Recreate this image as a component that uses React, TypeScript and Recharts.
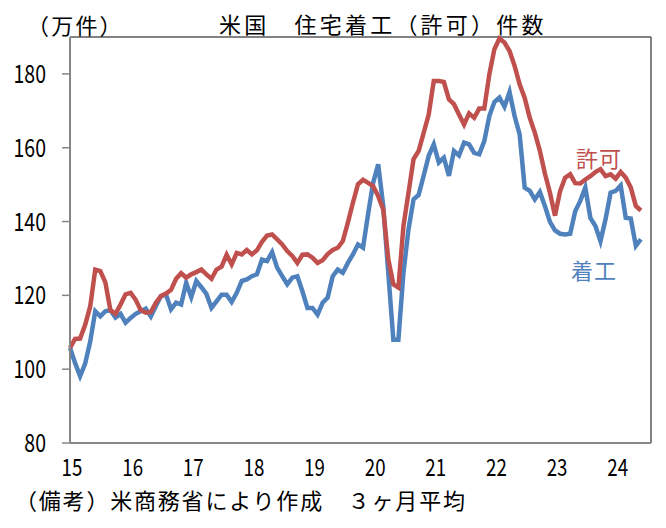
import React from 'react';
import { LineChart, Line, XAxis, YAxis, ReferenceLine } from 'recharts';

// Monthly, Jan 2015 (index 0) to Jun 2024 (index 113), 3-month average, 10k units
const permits: number[] = [
  105.8, 108.2, 108.3, 112, 117, 127, 126.6, 123.5, 116, 115, 117.5, 120.3,
  120.7, 118.8, 116, 115.3, 115.5, 118, 119.8, 120.5, 121.5, 124.5, 126, 124.8,
  125.7, 126.3, 127, 125.7, 124.5, 127, 127.8, 131, 128.4, 131.5, 131.1, 132.3,
  131.1, 132.2, 134.5, 136.2, 136.5, 135.2, 133.8, 132, 130.7, 128.8, 131, 131.1,
  130.2, 128.8, 129.5, 131.2, 132.3, 132.9, 134.7, 139.7, 145.1, 150.1, 151.3, 150.5,
  149.6, 146.9, 143.3, 129.8, 123, 122.1, 138.8, 147.8, 156.9, 159.1, 164, 169,
  178.1, 178.1, 177.8, 173.1, 171.8, 169, 166.3, 169.3, 168.1, 170.6, 170.6, 179.9,
  186.7, 189.6, 188.5, 186.2, 182.2, 177.2, 173.5, 168.1, 164.1, 159.2, 153, 147.8,
  141.6, 148.2, 151.9, 152.8, 150.4, 150.3, 151.4, 152.3, 153.4, 154.2, 152.3, 152.8,
  151.6, 153.4, 151.9, 149.2, 144.2, 143,
];

const starts: number[] = [
  105.8, 101.7, 98.1, 101.5, 107.5, 115.7, 114.3, 115.7, 116, 114, 115, 112.6,
  113.9, 115, 115.7, 116.4, 114.3, 117.1, 119.8, 120.2, 116.2, 118, 117.5, 123.4,
  119.5, 123.9, 122.2, 120.4, 116.6, 118.4, 120.2, 120.2, 118.2, 120.7, 123.9, 124.3,
  125.2, 125.7, 129.7, 129.3, 131.7, 127.5, 125.2, 123, 124.8, 125.2, 121.1, 116.6,
  116.6, 114.8, 118, 119.4, 125.2, 127, 126.1, 128.8, 131.1, 133.8, 132.9, 142,
  150.5, 155.5, 144.2, 126.1, 108, 108, 126.1, 137.9, 146, 147.2, 152.4, 157.8,
  160.9, 156, 157.3, 152.4, 159.1, 157.9, 161.4, 160.9, 158.6, 158.2, 161.8, 168.6,
  172.4, 173.6, 171.1, 175.1, 168.6, 163.6, 149.2, 148.3, 146, 148, 144.2, 139.9,
  137.6, 136.7, 136.5, 136.7, 142.8, 145.6, 149.2, 141, 138.8, 134.7, 140.6, 147.8,
  148.3, 149.8, 141, 140.8, 133.4, 135.2,
];

const yearLabels: string[] = ['15', '16', '17', '18', '19', '20', '21', '22', '23', '24'];
const yTicks: number[] = [80, 100, 120, 140, 160, 180];

const title = '米国　住宅着工（許可）件数';
const unitLabel = '（万件）';
const note = '（備考）米商務省により作成　３ヶ月平均';
const permitsName = '許可';
const startsName = '着工';

const data = permits.map((p, i) => ({ m: i, permits: p, starts: starts[i] }));
const xTicks = yearLabels.map((_, i) => i * 12);

const FONT = "'Noto Sans CJK JP', 'Noto Sans', sans-serif";
const RED = '#C0504D';
const BLUE = '#4F81BD';
const AXIS = '#868686';
const NUM_SIZE = 25;
const NUM_SCALE = 0.78;

const XTick = (props: any) => {
  const { x, y, payload } = props;
  const label = yearLabels[Math.round(payload.value / 12)];
  return (
    <g transform={`translate(${x + 2}, ${y + 33}) scale(${NUM_SCALE}, 1)`}>
      <text x={0} y={0} textAnchor="middle" fontSize={24} fontFamily={FONT} fill="#000">
        {label}
      </text>
    </g>
  );
};

const YTick = (props: any) => {
  const { x, y, payload } = props;
  return (
    <g transform={`translate(${x}, ${y}) scale(${NUM_SCALE}, 1)`}>
      <text x={0} y={0} dy="0.36em" textAnchor="end" fontSize={NUM_SIZE} fontFamily={FONT} fill="#000">
        {payload.value}
      </text>
    </g>
  );
};

const textBase: React.CSSProperties = {
  position: 'absolute',
  fontFamily: FONT,
  fontSize: 22,
  lineHeight: '22px',
  whiteSpace: 'pre',
  color: '#000',
};

export default function App() {
  return (
    <div style={{ position: 'absolute', left: 0, top: 0, width: 666, height: 528, background: '#fff' }}>
      <LineChart
        width={666}
        height={528}
        data={data}
        margin={{ top: 37, right: 15, left: 0, bottom: 0 }}
      >
        <XAxis
          dataKey="m"
          type="number"
          domain={[0, 115]}
          ticks={xTicks}
          interval={0}
          tickLine={false}
          tickSize={0}
          tickMargin={0}
          height={85}
          axisLine={{ stroke: AXIS, strokeWidth: 2 }}
          tick={<XTick />}
        />
        <YAxis
          type="number"
          domain={[80, 190]}
          ticks={yTicks}
          interval={0}
          width={70}
          tickSize={8}
          tickMargin={16}
          tickLine={{ stroke: AXIS, strokeWidth: 1.5 }}
          axisLine={{ stroke: AXIS, strokeWidth: 2 }}
          tick={<YTick />}
        />
        <ReferenceLine y={190} stroke="#595959" strokeWidth={1.5} ifOverflow="visible" />
        <ReferenceLine x={115} stroke="#595959" strokeWidth={1.5} ifOverflow="visible" />
        <Line
          type="linear"
          dataKey="starts"
          stroke={BLUE}
          strokeWidth={4.5}
          dot={false}
          isAnimationActive={false}
        />
        <Line
          type="linear"
          dataKey="permits"
          stroke={RED}
          strokeWidth={4.5}
          dot={false}
          isAnimationActive={false}
        />
      </LineChart>
      <div style={{ ...textBase, left: 219, top: 12, letterSpacing: 3.2 }}>{title}</div>
      <div style={{ ...textBase, left: 27, top: 13, letterSpacing: 2.2 }}>{unitLabel}</div>
      <div style={{ ...textBase, left: 15, top: 488, letterSpacing: 1.8 }}>{note}</div>
      <div style={{ ...textBase, left: 576, top: 146, color: RED, letterSpacing: 1 }}>{permitsName}</div>
      <div style={{ ...textBase, left: 571, top: 258, color: BLUE, letterSpacing: 1 }}>{startsName}</div>
    </div>
  );
}
